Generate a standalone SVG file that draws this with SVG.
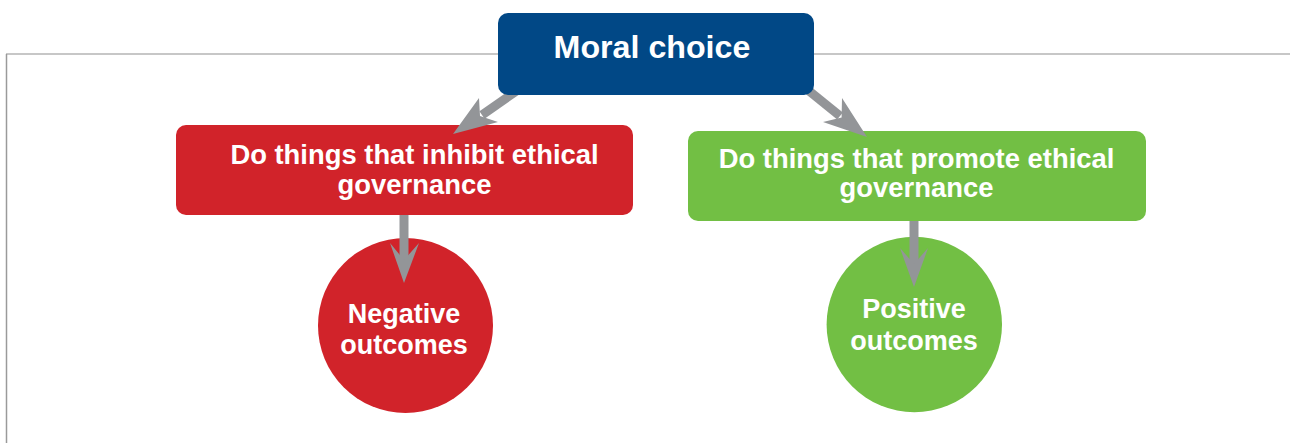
<svg xmlns="http://www.w3.org/2000/svg" width="1290" height="443" viewBox="0 0 1290 443">
<style>
.t{font-family:"Liberation Sans",Arial,Helvetica,sans-serif;font-weight:bold;fill:#ffffff;text-anchor:middle}
.shaft{stroke:#939598;stroke-width:9;fill:none}
.head{fill:#939598}
</style>
<rect width="1290" height="443" fill="#ffffff"/>
<g id="frame">
<line x1="6" y1="54" x2="1290" y2="54" stroke="#b5b5b5" stroke-width="1.5"/>
<line x1="6.5" y1="54" x2="6.5" y2="443" stroke="#9a9a9a" stroke-width="1.5"/>
</g>
<g id="connectors-under">
<line class="shaft" x1="525" y1="85" x2="482" y2="115"/>
<line class="shaft" x1="798" y1="82" x2="840" y2="116"/>
</g>
<g id="moral-choice">
<rect x="498" y="13" width="316" height="82" rx="10" fill="#014886"/>
<text class="t" x="652" y="58" font-size="32.2">Moral choice</text>
</g>
<g id="inhibit">
<rect x="176" y="125" width="457" height="90" rx="10" fill="#d1232a"/>
<text class="t" x="414.5" y="164" font-size="27.4">Do things that inhibit ethical</text>
<text class="t" x="414.5" y="194" font-size="27.4">governance</text>
</g>
<g id="promote">
<rect x="688" y="131" width="458" height="90" rx="10" fill="#72bf44"/>
<text class="t" x="916.5" y="168" font-size="27.4">Do things that promote ethical</text>
<text class="t" x="916.5" y="197" font-size="27.4">governance</text>
</g>
<g id="negative">
<circle cx="405.5" cy="325.5" r="87.5" fill="#d1232a"/>
<text class="t" x="404" y="323" font-size="27">Negative</text>
<text class="t" x="404" y="354" font-size="27">outcomes</text>
</g>
<g id="positive">
<circle cx="914.3" cy="324.5" r="87.7" fill="#72bf44"/>
<text class="t" x="914" y="318" font-size="27">Positive</text>
<text class="t" x="914" y="350" font-size="27">outcomes</text>
</g>
<g id="connectors">
<polygon class="head" points="453,134 479,98 480,116 498,122"/>
<polygon class="head" points="867,137 842,98 841.6,117.6 823,122"/>
<line class="shaft" x1="404" y1="215" x2="404" y2="262"/>
<polygon class="head" points="404,283 390,243 404,260 419,243"/>
<line class="shaft" x1="914" y1="221" x2="914" y2="266"/>
<polygon class="head" points="914,287 900,248 914,264 928,248"/>
</g>
</svg>
